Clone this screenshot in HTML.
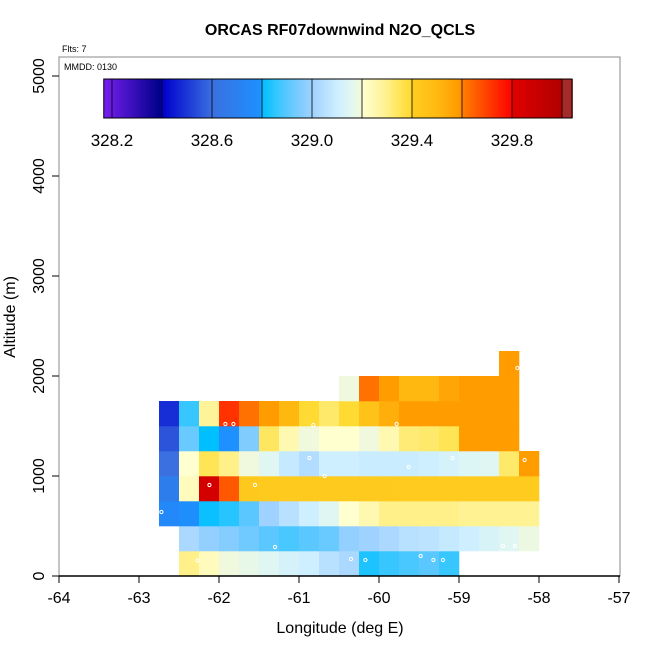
<!DOCTYPE html>
<html><head><meta charset="utf-8"><style>
body{margin:0;background:#fff;}
svg text{font-family:"Liberation Sans",sans-serif;}
</style></head><body>
<svg id="chart" width="650" height="650" xmlns="http://www.w3.org/2000/svg">
<text x="340" y="35" text-anchor="middle" font-size="16" font-weight="bold">ORCAS RF07downwind N2O_QCLS</text>
<text x="62" y="52" font-size="9">Flts: 7</text>
<rect x="59" y="57" width="561" height="519" fill="none" stroke="#888" stroke-width="1"/>
<text x="64" y="70" font-size="9">MMDD: 0130</text>
<g id="cells"></g>
<g id="pts"></g>
<g id="axes"></g>
<g id="cbar"></g>
<text x="340" y="633" text-anchor="middle" font-size="16">Longitude (deg E)</text>
<text transform="translate(15,317) rotate(-90)" text-anchor="middle" font-size="16">Altitude (m)</text>
</svg>
<script>
const xTicks=[-64,-63,-62,-61,-60,-59,-58,-57];
const yTicks=[0,1000,2000,3000,4000,5000];
const cbTicks=[328.2,328.6,329.0,329.4,329.8];
const lonStart=-62.75, lonStep=0.25, altStep=250;
const row0=[null,329.3,329.23,329.19,329.17,329.15,329.12,329.1,329.05,329.02,328.83,328.86,328.88,328.9,328.86,null,null,null,null];
const row1=[null,329.02,328.98,328.96,328.93,328.9,328.88,328.9,328.92,328.98,329.0,329.02,329.05,329.06,329.08,329.1,329.13,329.15,329.18];
const row2=[328.75,328.78,328.81,328.84,328.9,329.0,329.05,329.1,329.15,329.2,329.25,329.3,329.3,329.3,329.3,329.29,329.29,329.29,329.29];
const row3=[328.68,329.23,329.85,329.66,329.42,329.41,329.41,329.41,329.41,329.41,329.41,329.41,329.405,329.405,329.405,329.405,329.405,329.405,329.405];
const row4=[328.6,329.2,329.35,329.3,329.19,329.15,329.08,329.04,329.1,329.1,329.09,329.09,329.09,329.1,329.12,329.14,329.15,329.33,329.58];
const row5=[328.55,328.92,328.8,328.79,328.95,329.34,329.25,329.19,329.2,329.2,329.19,329.25,329.32,329.33,329.35,329.58,329.58,329.58,null];
const row6=[328.48,328.86,329.28,329.72,329.62,329.58,329.5,329.39,329.33,329.39,329.45,329.53,329.58,329.58,329.58,329.58,329.58,329.58,null];
const row7=[null,null,null,null,null,null,null,null,null,329.19,329.62,329.58,329.5,329.5,329.55,329.58,329.58,329.58,null];
const row8=[null,null,null,null,null,null,null,null,null,null,null,null,null,null,null,null,null,329.58,null];
const rows=[row0,row1,row2,row3,row4,row5,row6,row7,row8];
const ptLon=[-62.72,-62.27,-62.12,-61.92,-61.82,-61.55,-61.3,-60.87,-60.82,-60.68,-60.35,-60.17,-59.78,-59.63,-59.48,-59.32,-59.2,-59.08,-58.45,-58.3,-58.18,-58.27];
const ptAlt=[640,155,910,1520,1520,910,290,1180,1510,1000,170,160,1520,1090,200,160,160,1180,300,300,1160,2080];

const X=v=>59+(v+64)*80;
const Y=v=>576-v*0.1;
const stops=[[328.16,'#7a20f0'],[328.39,'#00008b'],[328.4,'#0000cd'],[328.6,'#3a70e0'],[328.79,'#1e90ff'],[328.8,'#00bfff'],[328.85,'#30c6ff'],[328.9,'#5ac8ff'],[328.95,'#80ccff'],[329.0,'#a0d2ff'],[329.05,'#b8e0ff'],[329.1,'#cdefff'],[329.15,'#e0f6f3'],[329.199,'#f3fad8'],[329.2,'#ffffd0'],[329.25,'#fff8b0'],[329.3,'#fff08a'],[329.35,'#ffe455'],[329.399,'#ffd82a'],[329.4,'#ffcc20'],[329.5,'#ffb810'],[329.58,'#ff9c00'],[329.599,'#ff8c00'],[329.6,'#ff7e00'],[329.799,'#ff0000'],[329.8,'#e00000'],[329.999,'#b00000'],[330.0,'#a52a2a'],[330.1,'#a52a2a']];
function hx(c){return [1,3,5].map(i=>parseInt(c.substr(i,2),16));}
function col(v){
  if(v<=stops[0][0])return stops[0][1];
  for(let i=1;i<stops.length;i++){if(v<=stops[i][0]){const a=stops[i-1],b=stops[i];const t=(v-a[0])/(b[0]-a[0]);const A=hx(a[1]),B=hx(b[1]);return 'rgb('+A.map((x,k)=>Math.round(x+(B[k]-x)*t)).join(',')+')';}}
  return stops[stops.length-1][1];
}
const NS='http://www.w3.org/2000/svg';
function mk(t,a,p){const e=document.createElementNS(NS,t);for(const k in a)e.setAttribute(k,a[k]);p.appendChild(e);return e;}
const cells=document.getElementById('cells');
rows.forEach((r,ri)=>r.forEach((v,ci)=>{if(v===null)return;
  const x0=X(lonStart+ci*lonStep),x1=X(lonStart+(ci+1)*lonStep),y1=Y(ri*altStep),y0=Y((ri+1)*altStep);
  const e=mk('rect',{x:x0,y:y0,width:x1-x0+0.3,height:y1-y0+0.3,fill:col(v)},cells);
  
  
}));
const pts=document.getElementById('pts');
ptLon.forEach((l,i)=>{const e=mk('circle',{cx:X(l),cy:Y(ptAlt[i]),r:1.6,fill:'none',stroke:'#fff','stroke-width':1},pts);
  
  });
const ax=document.getElementById('axes');
mk('line',{x1:59,y1:576,x2:620,y2:576,stroke:'#000','stroke-width':1.5},ax);
xTicks.forEach(t=>{mk('line',{x1:X(t),y1:576,x2:X(t),y2:583,stroke:'#000'},ax);
  const e=mk('text',{x:X(t),y:603,'text-anchor':'middle','font-size':16},ax);e.textContent=t;
  
  });
yTicks.forEach(t=>{mk('line',{x1:52,y1:Y(t),x2:59,y2:Y(t),stroke:'#000'},ax);
  const e=mk('text',{transform:`translate(44,${Y(t)}) rotate(-90)`,'text-anchor':'middle','font-size':16},ax);e.textContent=t;
  
  });
const cb=document.getElementById('cbar');
const CX=v=>112+(v-328.2)*250;
const cbMin=328.167, cbMax=330.04;
for(let v=cbMin;v<cbMax;v+=0.005){mk('rect',{x:CX(v),y:79,width:1.6,height:39,fill:col(v)},cb);}
for(let v=328.2;v<=330.01;v+=0.2){mk('line',{x1:CX(v),y1:79,x2:CX(v),y2:118,stroke:'#000','stroke-width':0.8},cb);}
mk('rect',{x:CX(cbMin),y:79,width:CX(cbMax)-CX(cbMin),height:39,fill:'none',stroke:'#000'},cb);
cbTicks.forEach(t=>{const e=mk('text',{x:CX(t),y:146,'text-anchor':'middle','font-size':17},cb);e.textContent=t.toFixed(1);
  
  });
</script>
</body></html>
